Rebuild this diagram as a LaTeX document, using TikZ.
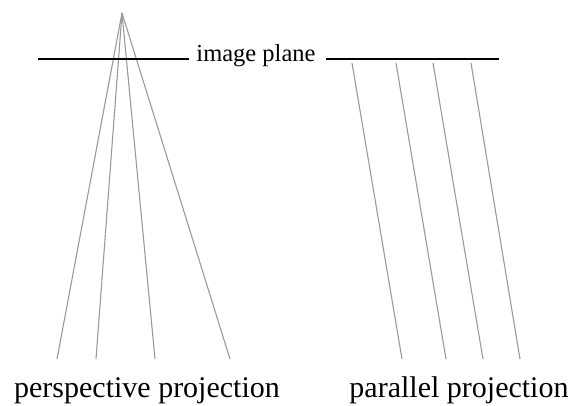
\documentclass[tikz,border=0pt]{standalone}
\usepackage{fontspec}
\setmainfont{Liberation Serif}
\usetikzlibrary{positioning}
\definecolor{raygray}{HTML}{9A9A9A}

\begin{document}
\begin{tikzpicture}[
  x=1pt,y=-1pt,
  ray/.style={draw=raygray,line width=1.1pt},
  plane/.style={draw=black,line width=2.8pt},
  caption/.style={font=\fontsize{30}{34}\selectfont,inner sep=0pt,anchor=base}
]
\useasboundingbox (0,0) rectangle (574,406);
% perspective side
\coordinate (eye) at (122,13);
\coordinate (p1) at (57,359);
\coordinate (p2) at (96,359);
\coordinate (p3) at (155,359);
\coordinate (p4) at (230,359);
\foreach \p in {p1,p2,p3,p4}
  \draw[ray] (eye) -- (\p);
% image plane
\node[font=\fontsize{24.5}{28}\selectfont,inner sep=0pt,anchor=base] (imgplane) at (256,62) {image plane};
\coordinate (planeL) at (38,59);
\coordinate (planeR) at (499,59);
\draw[plane] (planeL) -- ([xshift=-7pt]planeL -| imgplane.west);
\draw[plane] ([xshift=10pt]planeR -| imgplane.east) -- (planeR);
% parallel side
\foreach \a/\b [count=\i] in {352/402,396/446,433/483,471/520} {
  \coordinate (q\i) at (\a,63);
  \coordinate (r\i) at (\b,359);
  \draw[ray] (q\i) -- (r\i);
}
% captions
\node[caption] (perslbl) at (147,398) {perspective projection};
\node[caption] (parlbl) at (459,398) {parallel projection};
\end{tikzpicture}
\end{document}
